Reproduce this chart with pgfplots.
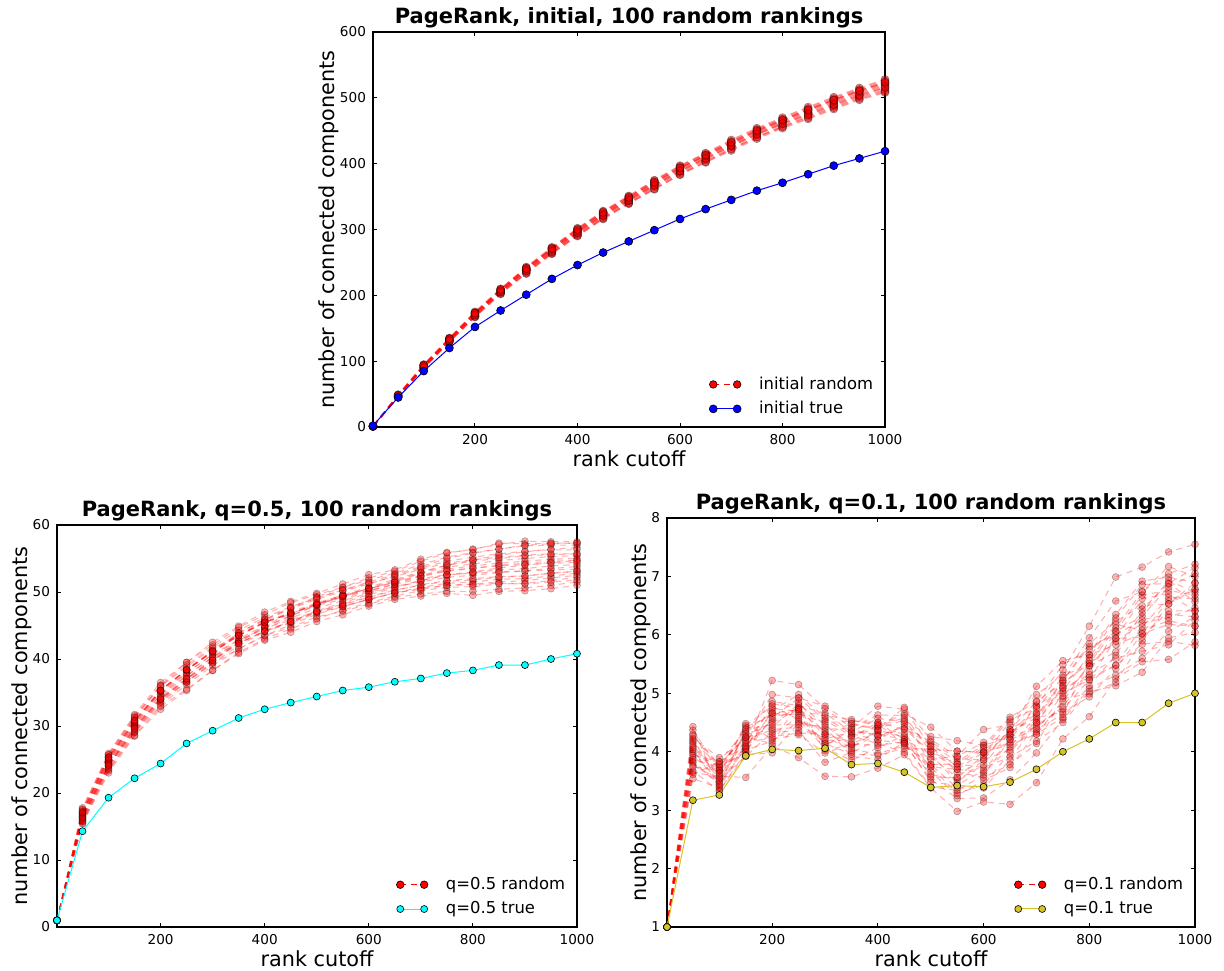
\documentclass[border=0pt]{standalone}
\usepackage{fontspec}
\setmainfont{DejaVu Sans}
\usepackage{pgfplots}
\usepackage{pgfplotstable}
\pgfplotsset{compat=1.18}

\definecolor{ytrue}{RGB}{212,196,40}
\definecolor{ctrue}{RGB}{0,255,255}

\pgfplotstableread{
x r1 r2 r3 r4 r5 r6 r7 r8 r9 r10 r11 r12
1 1 1 1 1 1 1 1 1 1 1 1 1
50 49 46 47 45 48 46 49 47 45 48 47 48
100 94 90 93 89 94 91 95 92 90 93 91 94
150 135 130 132 129 134 131 135 132 130 133 131 134
200 174 168 172 167 173 170 175 171 168 173 170 173
250 209 204 207 202 208 205 210 206 203 207 205 209
300 242 235 239 233 241 237 243 238 234 240 237 241
350 272 265 269 263 271 266 273 268 264 270 267 271
400 301 292 297 290 299 294 302 296 291 298 295 300
450 327 318 323 316 325 320 328 322 317 324 321 326
500 350 341 346 339 348 343 351 345 340 347 344 349
550 374 364 369 361 372 366 375 368 362 371 367 372
600 396 386 392 383 394 388 397 390 384 393 389 394
650 415 405 411 402 413 407 416 409 403 412 408 413
700 434 423 430 420 432 426 436 428 422 431 427 433
750 452 441 448 438 450 444 454 446 440 449 445 451
800 468 457 464 454 466 460 470 462 456 465 461 467
850 484 472 479 468 482 474 486 477 470 481 475 482
900 499 487 494 483 497 489 501 492 485 496 490 497
950 513 501 508 497 511 503 515 506 499 510 504 511
1000 526 512 520 508 523 515 528 518 510 522 516 524
}\topdata

\pgfplotstableread{
x y
1 2
50 45
100 85
150 120
200 152
250 177
300 201
350 225
400 246
450 265
500 282
550 299
600 316
650 331
700 345
750 359
800 371
850 384
900 397
950 408
1000 419
}\toptrue

\pgfplotstableread{
x r1 r2 r3 r4 r5 r6 r7 r8 r9 r10 r11 r12 r13 r14 r15 r16 r17 r18 r19 r20 r21 r22 r23 r24
1 1 1 1 1 1 1 1 1 1 1 1 1 1 1 1 1 1 1 1 1 1 1 1 1
50 17.6 15.7 16.7 16.1 17.1 15.4 16.5 17.3 15.9 16.9 16.4 17.8 15.5 17.0 16.3 16.6 17.2 16.0 16.5 17.5 15.8 16.9 16.3 17.1
100 25.7 23.3 25.0 24.2 25.4 23.0 24.7 25.4 23.9 24.8 24.2 25.9 23.5 25.3 24.1 24.5 25.3 24.0 24.4 25.7 23.7 25.0 24.2 25.2
150 31.5 29.0 30.3 29.3 30.9 28.5 30.0 31.2 29.2 30.7 29.8 31.7 28.6 30.5 29.7 30.3 30.9 29.5 29.9 31.3 29.1 30.6 29.6 30.8
200 36.1 33.1 35.1 33.9 35.3 32.5 34.7 35.9 33.7 35.1 34.3 36.5 32.9 35.3 34.1 34.7 35.4 34.0 34.2 36.0 33.5 35.3 34.0 35.3
250 39.5 36.2 38.2 36.6 38.4 35.3 37.9 38.8 36.6 37.9 37.5 39.5 35.5 38.4 36.8 37.5 38.4 37.1 37.1 39.1 36.5 38.4 37.0 38.4
300 42.1 39.0 41.2 39.4 41.2 38.3 40.7 41.6 39.6 40.7 40.3 42.5 38.3 41.0 39.9 40.3 41.1 40.1 39.8 41.8 39.4 41.3 39.8 41.1
350 44.7 41.5 43.7 41.5 43.5 41.0 43.9 43.5 42.6 42.8 43.0 44.9 40.8 43.5 42.5 42.4 43.5 42.7 42.3 44.3 42.0 43.9 42.3 43.5
400 46.6 43.5 45.7 43.5 45.5 43.0 45.9 45.5 44.8 44.6 45.0 47.0 42.8 45.5 44.6 44.1 45.4 44.8 44.2 46.2 44.1 45.9 44.2 45.5
450 48.4 45.1 47.5 44.7 46.8 44.5 47.7 46.8 46.5 45.8 46.8 48.6 44.0 46.8 46.1 45.4 46.8 46.4 45.5 47.8 45.6 47.6 45.6 47.0
500 49.6 46.7 48.9 46.3 48.2 46.0 49.3 48.0 48.0 47.1 48.2 49.8 45.6 48.2 47.6 46.9 48.2 48.1 47.0 49.1 47.2 49.1 47.1 48.4
550 50.7 47.8 50.1 47.1 49.4 47.3 50.7 48.9 49.4 48.2 49.6 51.2 46.6 49.4 48.7 47.8 49.2 49.3 47.9 50.3 48.4 50.3 48.1 49.5
600 51.8 48.9 51.2 48.2 50.2 48.4 52.1 50.0 50.5 49.3 50.7 52.6 47.9 50.5 49.8 48.9 50.2 50.6 48.9 51.3 49.6 51.5 49.2 50.5
650 52.8 49.9 52.4 49.2 51.2 49.4 53.1 50.8 51.5 50.3 51.9 53.3 48.9 51.5 50.8 49.9 51.1 51.7 49.8 52.3 50.6 52.6 50.2 51.4
700 54.1 50.7 53.6 49.7 52.3 50.2 54.6 51.5 52.8 51.0 53.0 54.9 49.4 52.5 51.7 50.4 52.0 52.9 50.6 53.4 51.7 53.8 51.1 52.4
750 55.2 51.3 54.6 50.1 53.1 50.7 55.8 52.2 53.7 51.6 54.0 55.9 49.8 53.4 52.5 51.0 52.6 54.0 51.0 54.3 52.6 55.0 51.7 53.2
800 55.9 51.5 55.2 50.1 53.5 50.8 56.4 52.5 54.2 51.8 54.6 56.3 49.5 53.9 52.9 51.2 52.8 54.8 51.1 54.8 53.0 55.8 52.0 53.6
850 56.4 51.9 55.7 50.4 54.0 51.2 57.1 52.9 54.7 52.2 55.0 57.3 50.1 54.3 53.3 51.5 53.0 55.5 51.3 55.2 53.6 56.4 52.3 53.9
900 56.9 52.0 56.1 50.6 54.3 51.3 57.6 53.2 55.0 52.4 55.4 57.2 50.2 54.6 53.5 51.7 53.1 56.0 51.2 55.5 54.0 57.0 52.4 54.1
950 57.0 52.4 56.3 51.0 54.6 51.7 57.5 53.5 55.3 52.8 55.6 57.3 50.5 54.9 53.9 52.1 53.3 56.4 51.5 55.7 54.4 57.2 52.8 54.3
1000 57.0 52.8 56.3 51.5 54.7 52.2 57.5 53.8 55.4 53.1 55.7 57.3 51.0 55.0 54.1 52.5 53.4 56.6 51.8 55.7 54.7 57.3 53.1 54.4
}\leftdata

\pgfplotstableread{
x y
1 1
50 14.3
100 19.3
150 22.2
200 24.4
250 27.4
300 29.3
350 31.2
400 32.5
450 33.5
500 34.4
550 35.3
600 35.8
650 36.6
700 37.1
750 37.9
800 38.3
850 39.1
900 39.1
950 40.0
1000 40.8
}\lefttrue

\pgfplotstableread{
x r1 r2 r3 r4 r5 r6 r7 r8 r9 r10 r11 r12 r13 r14 r15 r16 r17 r18 r19 r20 r21 r22 r23 r24
1 1 1 1 1 1 1 1 1 1 1 1 1 1 1 1 1 1 1 1 1 1 1 1 1
50 4.14 3.77 4.37 3.54 4.00 3.90 4.23 3.67 4.07 3.84 3.97 4.30 3.64 4.17 3.94 4.43 3.87 4.20 3.74 4.04 3.61 4.10 3.81 4.27
100 3.80 3.53 3.70 3.38 3.48 3.65 3.90 3.33 3.60 3.43 3.75 3.68 3.58 3.50 3.83 3.33 3.73 3.55 3.68 3.40 3.83 3.63 3.45 3.78
150 4.25 3.92 4.42 4.11 4.34 4.03 4.20 4.00 4.45 4.14 4.28 4.06 3.56 4.23 4.37 3.95 4.00 4.31 4.17 4.39 4.09 4.48 4.06 4.25
200 4.98 4.34 4.62 4.54 4.86 4.18 4.38 4.70 4.78 4.26 4.50 5.22 4.10 4.42 4.66 3.98 4.58 4.30 4.74 4.46 4.66 4.22 4.82 4.14
250 4.92 4.36 4.65 4.75 4.79 4.52 4.42 4.98 4.55 4.32 4.72 5.15 3.90 4.82 4.62 4.49 4.92 4.59 4.69 4.46 4.72 4.29 4.75 4.85
300 4.54 3.82 4.50 4.26 4.66 4.38 4.18 4.58 4.06 4.30 4.02 4.74 3.58 4.46 4.14 4.42 4.78 4.14 4.62 4.22 4.34 3.98 4.10 4.30
350 4.27 3.99 4.52 4.03 4.34 4.41 4.27 4.31 3.85 4.48 4.13 4.41 3.57 4.10 4.24 3.92 4.48 3.96 4.55 4.34 4.06 4.13 4.38 4.17
400 4.44 4.20 4.50 3.97 4.30 4.63 4.14 4.20 4.07 4.40 4.34 4.78 3.72 4.27 4.50 3.87 4.37 3.94 4.44 4.57 4.37 4.11 4.27 4.47
450 4.65 4.14 4.39 4.10 4.21 4.62 3.99 4.47 4.28 4.54 4.32 4.73 3.95 4.43 4.21 4.17 4.25 4.06 4.58 4.51 4.76 4.17 4.39 4.14
500 4.42 3.53 4.13 3.78 3.96 4.00 3.40 3.91 3.66 4.26 3.74 4.09 3.38 4.17 3.61 3.87 3.57 4.04 3.78 4.09 4.21 3.48 4.00 3.74
550 4.01 3.20 3.83 3.79 3.47 3.70 3.34 3.56 3.25 4.19 3.70 3.74 2.98 3.88 3.52 3.92 3.56 4.01 3.38 3.65 3.92 3.43 3.79 3.29
600 3.99 3.21 4.11 3.73 3.86 3.64 3.60 3.94 3.51 4.11 3.99 4.03 3.14 3.86 3.77 4.38 3.90 3.99 3.38 3.56 4.16 3.68 4.07 3.43
650 4.29 3.52 4.59 3.91 4.38 4.08 4.21 4.51 3.73 4.25 4.12 4.34 3.10 4.03 4.34 4.46 4.38 4.16 3.86 3.78 4.29 4.21 4.55 3.99
700 4.78 3.98 4.86 4.18 4.66 4.62 4.78 4.98 4.34 4.42 4.30 5.12 3.47 4.54 4.58 4.46 4.86 4.30 4.50 4.14 4.66 4.38 4.74 4.50
750 5.40 4.55 5.18 4.50 5.04 5.22 5.09 5.31 5.00 4.77 4.86 5.56 4.22 5.22 4.68 4.73 5.49 4.59 5.13 4.91 4.95 4.64 5.27 5.09
800 6.15 5.08 5.51 5.03 5.66 5.80 5.27 5.47 5.23 5.37 5.51 5.66 4.60 5.85 4.94 5.23 5.75 5.13 5.61 4.99 5.47 5.56 5.95 5.32
850 6.99 5.31 6.12 5.13 5.83 6.00 5.48 5.71 5.48 6.06 5.89 6.35 5.25 6.23 5.42 5.94 6.06 5.65 6.29 5.19 5.94 6.18 6.58 5.60
900 7.16 5.60 6.74 5.36 6.02 6.26 6.14 6.44 5.84 6.68 6.20 6.92 5.54 6.50 6.02 5.96 6.32 6.38 6.86 5.90 6.62 6.08 6.74 5.72
950 7.42 6.06 7.17 5.95 6.59 6.35 6.64 6.88 5.89 6.76 6.30 6.99 5.58 6.53 6.18 6.41 6.82 6.93 6.88 6.53 6.70 6.24 7.05 5.83
1000 7.55 6.31 7.00 6.04 6.78 6.31 6.62 7.15 5.82 6.68 6.46 6.89 5.88 6.78 6.15 6.41 7.05 6.73 6.57 6.89 6.41 6.15 7.21 6.25
}\rightdata

\pgfplotstableread{
x y
1 1
50 3.17
100 3.26
150 3.93
200 4.04
250 4.02
300 4.06
350 3.78
400 3.80
450 3.65
500 3.39
550 3.42
600 3.40
650 3.48
700 3.70
750 4.00
800 4.22
850 4.50
900 4.50
950 4.83
1000 5.00
}\righttrue

\pgfplotsset{
  myax/.style={
    scale only axis,
    xmin=1, xmax=1000,
    xtick={200,400,600,800,1000},
    tick label style={font=\fontsize{6.8}{8}\selectfont},
    label style={font=\fontsize{10.4}{12}\selectfont},
    xlabel style={yshift=3.5pt},
    ylabel style={yshift=-6.5pt},
    title style={font=\bfseries\fontsize{10.5}{12}\selectfont, yshift=-7.5pt},
    xlabel={rank cutoff},
    ylabel={number of connected components},
    axis line style={line width=0.7pt},
    major tick length=2pt,
    tick style={black, line width=0.5pt},
    /pgf/number format/assume math mode=true,
    /pgf/number format/1000 sep={},
    legend style={draw=none, fill=none, at={(0.997,0.005)}, anchor=south east,
      font=\fontsize{8.2}{10}\selectfont, row sep=0.5pt, column sep=7pt},
    legend cell align=left,
    legend image code/.code={\draw[##1] plot coordinates {(0cm,0cm) (0.42cm,0cm)};},
  },
  rnd/.style={red, dash pattern=on 3pt off 2.5pt, line width=0.55pt, opacity=0.3,
    mark=*, mark size=#1, mark options={solid, fill=red, draw=black, line width=0.3pt}},
  rndtop/.style={red, dash pattern=on 3.5pt off 2.5pt, line width=0.7pt, opacity=0.4,
    mark=*, mark size=2pt, mark options={solid, fill=red, draw=black, line width=0.3pt}},
  rndleg/.style={red, dash pattern=on 3pt off 2.5pt, line width=0.5pt,
    mark=*, mark size=1.9pt, mark options={solid, fill=red, draw=black, line width=0.3pt}},
}

\begin{document}
\begin{tikzpicture}
\path[use as bounding box] (0,0) rectangle (612pt,-485pt);

% top panel
\begin{axis}[myax,
  at={(186.5pt,-213.5pt)}, anchor=south west,
  width=256pt, height=197.5pt,
  ymin=0, ymax=600, ytick={0,100,...,600},
  title={PageRank, initial, 100 random rankings}]
\pgfplotsinvokeforeach{1,...,12}{
  \addplot[rndtop, forget plot] table[x=x, y=r#1] {\topdata};
}
\addlegendimage{rndleg}
\addlegendentry{initial random}
\addplot[blue, line width=0.5pt, mark=*, mark size=2pt,
  mark options={fill=blue, draw=black, line width=0.3pt}] table[x=x, y=y] {\toptrue};
\addlegendentry{initial true}
\end{axis}

% bottom left
\begin{axis}[myax,
  at={(28.5pt,-463.5pt)}, anchor=south west,
  width=260pt, height=201pt,
  ymin=0, ymax=60, ytick={0,10,...,60},
  title={PageRank, q=0.5, 100 random rankings}]
\pgfplotsinvokeforeach{1,...,24}{
  \addplot[rnd=1.75pt, forget plot] table[x=x, y=r#1] {\leftdata};
}
\addlegendimage{rndleg}
\addlegendentry{q=0.5 random}
\addplot[ctrue, line width=0.5pt, mark=*, mark size=1.75pt,
  mark options={fill=ctrue, draw=black, line width=0.3pt}] table[x=x, y=y] {\lefttrue};
\addlegendentry{q=0.5 true}
\end{axis}

% bottom right
\begin{axis}[myax,
  at={(333.5pt,-463.5pt)}, anchor=south west,
  width=264pt, height=204.5pt,
  ymin=1, ymax=8, ytick={1,2,...,8},
  title={PageRank, q=0.1, 100 random rankings}]
\pgfplotsinvokeforeach{1,...,24}{
  \addplot[rnd=1.75pt, forget plot] table[x=x, y=r#1] {\rightdata};
}
\addlegendimage{rndleg}
\addlegendentry{q=0.1 random}
\addplot[ytrue, line width=0.5pt, mark=*, mark size=1.75pt,
  mark options={fill=ytrue, draw=black, line width=0.3pt}] table[x=x, y=y] {\righttrue};
\addlegendentry{q=0.1 true}
\end{axis}
\end{tikzpicture}
\end{document}
